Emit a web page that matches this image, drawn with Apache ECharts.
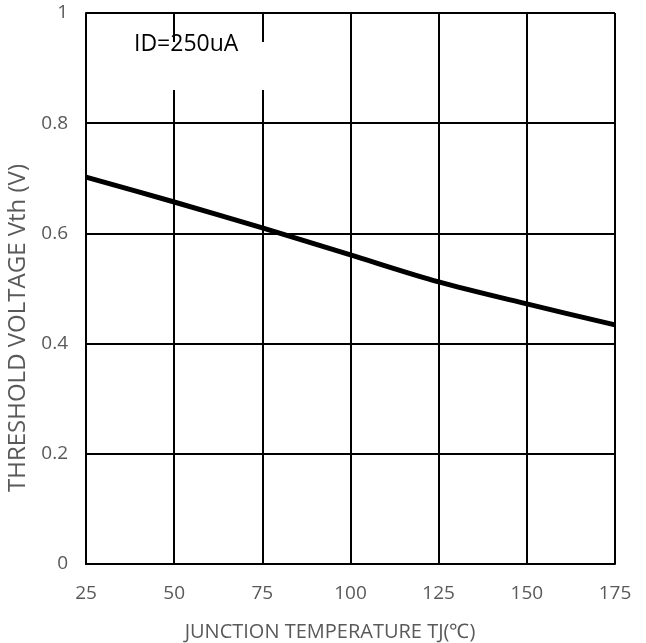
<!DOCTYPE html>
<html>
<head>
<meta charset="utf-8">
<script src="https://cdn.jsdelivr.net/npm/echarts@6/dist/echarts.min.js"></script>
<style>html,body{margin:0;padding:0;background:#fff;}#c{width:646px;height:643px;}</style>
</head>
<body>
<div id="c"></div>
<script>
var temperatures = [25, 50, 75, 100, 125, 150, 175];
var vthValues = [0.702, 0.657, 0.610, 0.561, 0.512, 0.472, 0.434];
var xTicks = [25, 50, 75, 100, 125, 150, 175];
var yTicks = [0, 0.2, 0.4, 0.6, 0.8, 1];
var annotation = 'ID=250uA';
var xName = 'JUNCTION TEMPERATURE TJ(\u2103)';
var yName = 'THRESHOLD VOLTAGE Vth (V)';

var chart = echarts.init(document.getElementById('c'));
var font = 'Open Sans';
var gray = '#595959';
chart.setOption({
  animation: false,
  backgroundColor: '#fff',
  grid: { left: 86, right: 31, top: 13, bottom: 79 },
  xAxis: {
    type: 'value', min: 25, max: 175, interval: 25,
    axisLine: { show: true, lineStyle: { color: '#000', width: 2 } },
    axisTick: { show: false },
    splitLine: { show: true, lineStyle: { color: '#000', width: 2 } },
    axisLabel: { color: gray, fontFamily: font, fontSize: 19, margin: 20 }
  },
  yAxis: {
    type: 'value', min: 0, max: 1, interval: 0.2,
    axisLine: { show: true, lineStyle: { color: '#000', width: 2 } },
    axisTick: { show: false },
    splitLine: { show: true, lineStyle: { color: '#000', width: 2 } },
    axisLabel: { color: gray, fontFamily: font, fontSize: 19, margin: 18 }
  },
  graphic: [
    { type: 'rect', z: 50, shape: { x: 100, y: 42, width: 190, height: 48 }, style: { fill: '#fff' } },
    { type: 'text', z: 51, left: 134, top: 33, style: { text: annotation, fill: '#000', font: '23px "Open Sans"' } },
    { type: 'text', z: 51, rotation: Math.PI / 2, x: 18, y: 328,
      style: { text: yName, fill: gray, font: '24px "Open Sans"', textAlign: 'center', textVerticalAlign: 'middle' } },
    { type: 'text', z: 51, x: 330, y: 632,
      style: { text: xName, fill: gray, font: '20px "Open Sans"', textAlign: 'center', textVerticalAlign: 'middle' } }
  ],
  series: [{
    type: 'line',
    data: temperatures.map(function (t, i) { return [t, vthValues[i]]; }),
    smooth: 0.3,
    symbol: 'none',
    lineStyle: { color: '#000', width: 5 },
    z: 5
  }]
});
</script>
</body>
</html>
